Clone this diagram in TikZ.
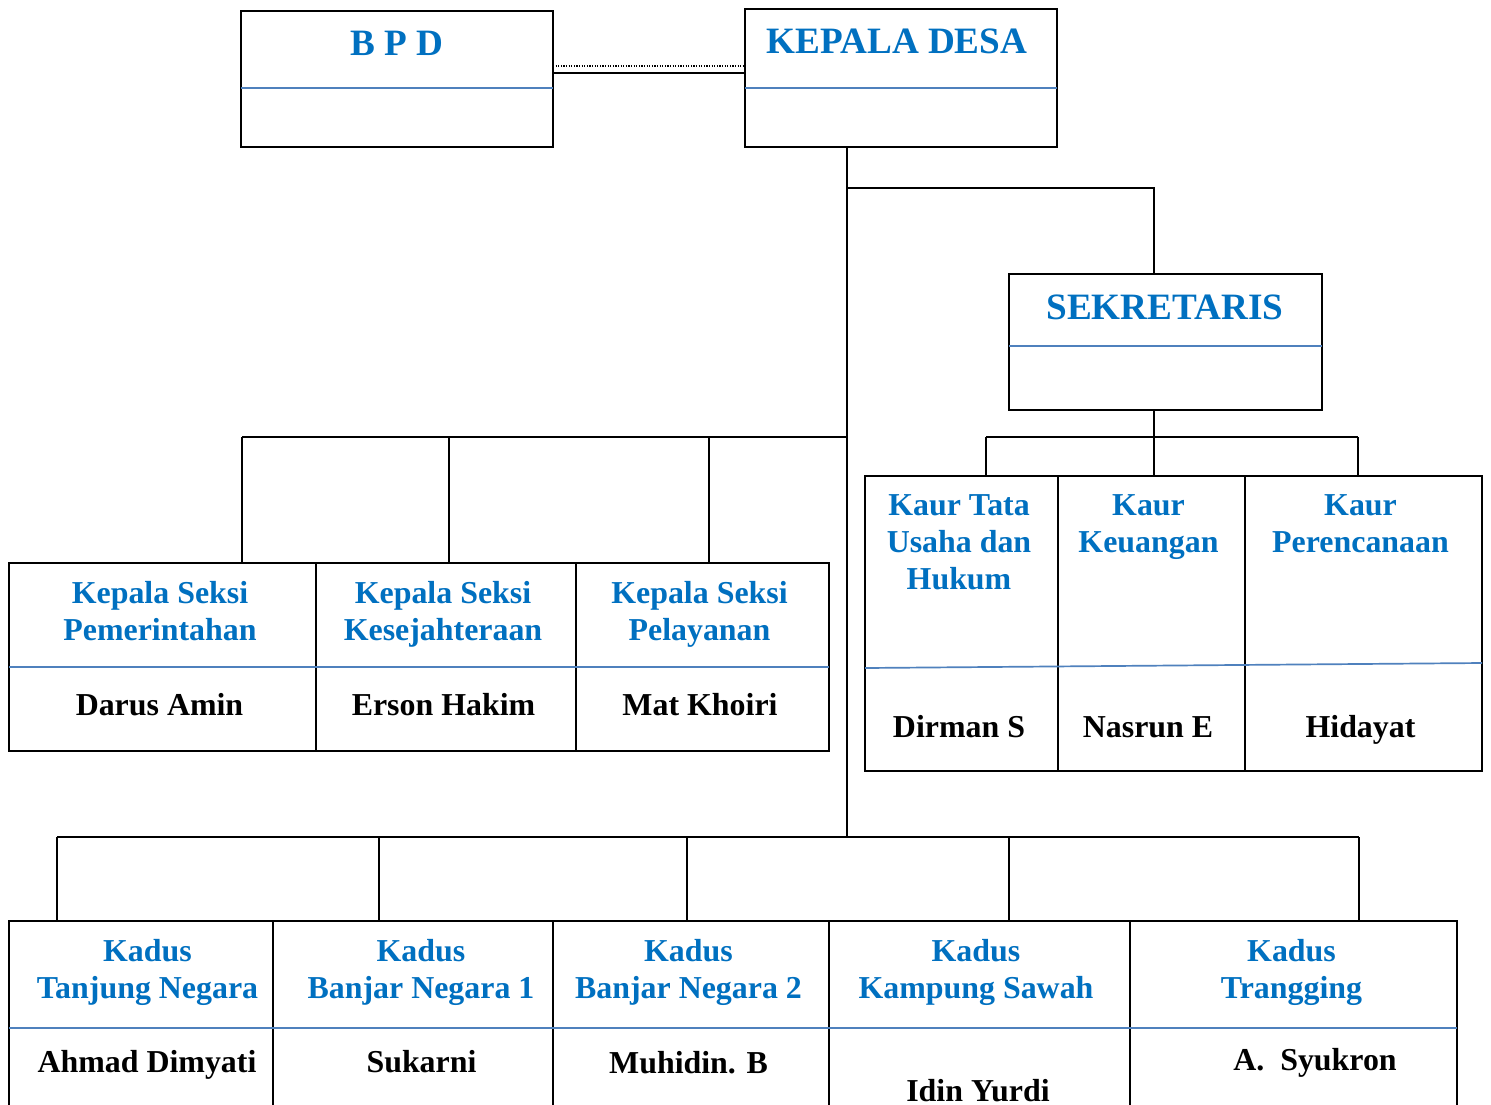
\documentclass[tikz,border=0pt]{standalone}
\usepackage{fontspec}
\setmainfont{Liberation Serif}
\usetikzlibrary{calc}
\definecolor{tblue}{HTML}{0070C0}
\definecolor{dblue}{HTML}{4F81BD}
\begin{document}
\begin{tikzpicture}[x=1pt,y=-1pt,
  cell/.style={draw=black, line width=2pt, inner sep=0pt, outer sep=0pt, rectangle},
  conn/.style={line width=2pt, draw=black},
  dotconn/.style={line width=1.1pt, draw=black, dash pattern=on 1.2pt off 1.4pt},
  divl/.style={line width=1.7pt, draw=dblue},
  ttl/.style={font=\fontsize{37.2}{44}\selectfont\bfseries, text=tblue, inner sep=0pt, anchor=base},
  lab/.style={font=\fontsize{31.9}{37}\selectfont\bfseries, text=tblue, inner sep=0pt, align=center, anchor=north},
  nm/.style={font=\fontsize{31.9}{37}\selectfont\bfseries, text=black, inner sep=0pt, anchor=base}]

\useasboundingbox (0,0) rectangle (1491,1104);
\clip (0,0) rectangle (1491,1104);
\fill[white] (0,0) rectangle (1491,1104);

% ---- connector coordinates
\coordinate (trunk) at (847,147);
\coordinate (sj) at (847,188);
\coordinate (sektop) at (1154,274);
\coordinate (kb) at (1154,437);
\coordinate (kbl) at (986,437);
\coordinate (kbr) at (1358,437);
\coordinate (s1) at (242,437);
\coordinate (s2) at (449,437);
\coordinate (s3) at (709,437);
\coordinate (sj2) at (847,437);
\coordinate (d1) at (57,837);
\coordinate (d2) at (379,837);
\coordinate (d3) at (687,837);
\coordinate (d4) at (1009,837);
\coordinate (d5) at (1359,837);
\coordinate (bus3) at (847,837);

% ---- boxes
\node[cell, minimum width=312pt, minimum height=136pt] (bpd) at (397,79) {};
\node[cell, minimum width=312pt, minimum height=138pt] (kd) at (901,78) {};
\node[cell, minimum width=313pt, minimum height=136pt] (sek) at (1165.5,342) {};

\node[cell, minimum width=307pt, minimum height=188pt] (ks1) at (162.5,657) {};
\node[cell, minimum width=260pt, minimum height=188pt] (ks2) at (446,657) {};
\node[cell, minimum width=253pt, minimum height=188pt] (ks3) at (702.5,657) {};

\node[cell, minimum width=193pt, minimum height=295pt] (kaur1) at (961.5,623.5) {};
\node[cell, minimum width=187pt, minimum height=295pt] (kaur2) at (1151.5,623.5) {};
\node[cell, minimum width=237pt, minimum height=295pt] (kaur3) at (1363.5,623.5) {};

\node[cell, minimum width=264pt, minimum height=279pt] (kd1) at (141,1060.5) {};
\node[cell, minimum width=280pt, minimum height=279pt] (kd2) at (413,1060.5) {};
\node[cell, minimum width=276pt, minimum height=279pt] (kd3) at (691,1060.5) {};
\node[cell, minimum width=301pt, minimum height=279pt] (kd4) at (979.5,1060.5) {};
\node[cell, minimum width=327pt, minimum height=279pt] (kd5) at (1293.5,1060.5) {};

% ---- dividers
\draw[divl] ($(bpd.north west)+(0,77)$) -- ($(bpd.north east)+(0,77)$);
\draw[divl] ($(kd.north west)+(0,79)$) -- ($(kd.north east)+(0,79)$);
\draw[divl] ($(sek.north west)+(0,72)$) -- ($(sek.north east)+(0,72)$);
\draw[divl] ($(ks1.north west)+(0,104)$) -- ($(ks3.north east)+(0,104)$);
\draw[divl] ($(kaur1.north west)+(0,192)$) -- ($(kaur3.north east)+(0,187)$);
\draw[divl] ($(kd1.north west)+(0,107)$) -- ($(kd5.north east)+(0,107)$);

% ---- connectors
\draw[conn] ($(bpd.north east)+(0,62)$) -- ($(kd.north west)+(0,64)$);
\draw[dotconn] ($(bpd.north east)+(0,55)$) -- ($(kd.north west)+(0,57)$);
\draw[conn] (trunk) -- (bus3);
\draw[conn] (sj) -| (sektop);
\draw[conn] (kb |- sek.south) -- (kb |- kaur2.north);
\draw[conn] (kbl) -- (kbr);
\draw[conn] (kbl) -- (kbl |- kaur1.north);
\draw[conn] (kbr) -- (kbr |- kaur3.north);
\draw[conn] (s1) -- (sj2);
\draw[conn] (s1) -- (s1 |- ks1.north);
\draw[conn] (s2) -- (s2 |- ks2.north);
\draw[conn] (s3) -- (s3 |- ks3.north);
\draw[conn] (d1) -- (d5);
\draw[conn] (d1) -- (d1 |- kd1.north);
\draw[conn] (d2) -- (d2 |- kd2.north);
\draw[conn] (d3) -- (d3 |- kd3.north);
\draw[conn] (d4) -- (d4 |- kd4.north);
\draw[conn] (d5) -- (d5 |- kd5.north);

% ---- titles
\node[ttl] (tbpd) at (396.5,55) {B P D};
\node[ttl] (tkd) at (897,53) {KEPALA DESA};
\node[ttl] (tsek) at (1165,319) {SEKRETARIS};

% ---- kepala seksi
\node[lab] (lks1) at (160,579) {\rule{0pt}{24pt}Kepala Seksi\\Pemerintahan};
\node[lab] (lks2) at (443,579) {\rule{0pt}{24pt}Kepala Seksi\\Kesejahteraan};
\node[lab] (lks3) at (699.5,579) {\rule{0pt}{24pt}Kepala Seksi\\Pelayanan};
\node[nm] (nks1) at (159.5,715) {Darus Amin};
\node[nm] (nks2) at (443.5,715) {Erson Hakim};
\node[nm] (nks3) at (700,715) {Mat Khoiri};

% ---- kaur
\node[lab] (lkr1) at (959,491) {\rule{0pt}{24pt}Kaur Tata\\Usaha dan\\Hukum};
\node[lab] (lkr2) at (1148.5,491) {\rule{0pt}{24pt}Kaur\\Keuangan};
\node[lab] (lkr3) at (1360.5,491) {\rule{0pt}{24pt}Kaur\\Perencanaan};
\node[nm] (nkr1) at (959,737) {Dirman S};
\node[nm] (nkr2) at (1148,737) {Nasrun E};
\node[nm] (nkr3) at (1360.5,737) {Hidayat};

% ---- kadus
\node[lab] (lkd1) at (147.5,937) {\rule{0pt}{24pt}Kadus\\Tanjung Negara};
\node[lab] (lkd2) at (421,937) {\rule{0pt}{24pt}Kadus\\Banjar Negara 1};
\node[lab] (lkd3) at (688.5,937) {\rule{0pt}{24pt}Kadus\\Banjar Negara 2};
\node[lab] (lkd4) at (976,937) {\rule{0pt}{24pt}Kadus\\Kampung Sawah};
\node[lab] (lkd5) at (1291.5,937) {\rule{0pt}{24pt}Kadus\\Trangging};
\node[nm] (nkd1) at (147,1072) {Ahmad Dimyati};
\node[nm] (nkd2) at (421.5,1072) {Sukarni};
\node[nm] (nkd3) at (688.5,1073) {Muhidin. B};
\node[nm] (nkd4) at (978,1101) {Idin Yurdi};
\node[nm] (nkd5) at (1315,1070) {A.\ \ Syukron};
\end{tikzpicture}
\end{document}
